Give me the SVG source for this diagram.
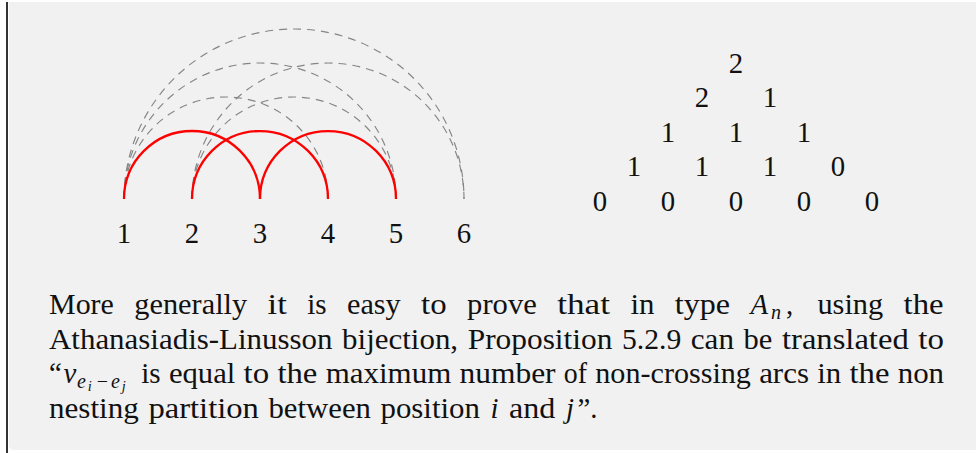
<svg xmlns="http://www.w3.org/2000/svg" width="976" height="453" viewBox="0 0 976 453">
<style>
.t{font-size:28.8px;fill:#111}
.m{text-anchor:middle}
.it{font-style:italic}
.s1{font-size:20px}
.s2{font-size:14.4px}
.red{fill:none;stroke:#ff0000;stroke-width:2.3}
.dash{fill:none;stroke:#858585;stroke-width:1.15;stroke-dasharray:8 6}
</style>
<rect x="0" y="0" width="976" height="453" fill="#ffffff"/>
<path d="M9 2 H976 V450 H14 Q9 450 9 445 Z" fill="#f1f1f1"/>
<line x1="7" y1="2" x2="7" y2="453" stroke="#333333" stroke-width="2"/>

<g id="connectors">
<path class="dash" d="M124 199 A170 170 0 0 1 464 199"/>
<path class="dash" d="M124 199 A136 136 0 0 1 396 199"/>
<path class="dash" d="M124 199 A102 102 0 0 1 328 199"/>
<path class="dash" d="M192 199 A136 136 0 0 1 464 199"/>
<path class="dash" d="M192 199 A102 102 0 0 1 396 199"/>
<path class="red" d="M124 199 A68 68 0 0 1 260 199"/>
<path class="red" d="M192 199 A68 68 0 0 1 328 199"/>
<path class="red" d="M260 199 A68 68 0 0 1 396 199"/>
</g>

<g font-family="Liberation Serif, serif">
<g id="p1"><text class="t m" x="124" y="243">1</text></g>
<g id="p2"><text class="t m" x="192" y="243">2</text></g>
<g id="p3"><text class="t m" x="260" y="243">3</text></g>
<g id="p4"><text class="t m" x="328" y="243">4</text></g>
<g id="p5"><text class="t m" x="396" y="243">5</text></g>
<g id="p6"><text class="t m" x="464" y="243">6</text></g>

<g id="triangle">
<text class="t m" x="736" y="72.5">2</text>
<text class="t m" x="702" y="107">2</text>
<text class="t m" x="770" y="107">1</text>
<text class="t m" x="668" y="141.5">1</text>
<text class="t m" x="736" y="141.5">1</text>
<text class="t m" x="804" y="141.5">1</text>
<text class="t m" x="634" y="176">1</text>
<text class="t m" x="702" y="176">1</text>
<text class="t m" x="770" y="176">1</text>
<text class="t m" x="838" y="176">0</text>
<text class="t m" x="600" y="210.5">0</text>
<text class="t m" x="668" y="210.5">0</text>
<text class="t m" x="736" y="210.5">0</text>
<text class="t m" x="804" y="210.5">0</text>
<text class="t m" x="872" y="210.5">0</text>
</g>

<g id="paragraph">
<text class="t" x="49" y="314" textLength="64.9" lengthAdjust="spacingAndGlyphs">More</text>
<text class="t" x="134.3" y="314" textLength="112.9" lengthAdjust="spacingAndGlyphs">generally</text>
<text class="t" x="267.6" y="314" textLength="19.2" lengthAdjust="spacingAndGlyphs">it</text>
<text class="t" x="307.2" y="314" textLength="19.4" lengthAdjust="spacingAndGlyphs">is</text>
<text class="t" x="347" y="314" textLength="53.7" lengthAdjust="spacingAndGlyphs">easy</text>
<text class="t" x="421.1" y="314" textLength="25.6" lengthAdjust="spacingAndGlyphs">to</text>
<text class="t" x="467.1" y="314" textLength="69.7" lengthAdjust="spacingAndGlyphs">prove</text>
<text class="t" x="557.2" y="314" textLength="52.8" lengthAdjust="spacingAndGlyphs">that</text>
<text class="t" x="630.4" y="314" textLength="24" lengthAdjust="spacingAndGlyphs">in</text>
<text class="t" x="674.8" y="314" textLength="55.2" lengthAdjust="spacingAndGlyphs">type</text>
<text class="t it" x="750.4" y="314">A</text>
<text class="t it s1" x="771" y="318.5">n</text>
<text class="t" x="786" y="314">,</text>
<text class="t" x="817.4" y="314" textLength="65.8" lengthAdjust="spacingAndGlyphs">using</text>
<text class="t" x="903.6" y="314" textLength="40" lengthAdjust="spacingAndGlyphs">the</text>

<text class="t" x="49" y="348.5" textLength="283.5" lengthAdjust="spacingAndGlyphs">Athanasiadis-Linusson</text>
<text class="t" x="342.1" y="348.5" textLength="116" lengthAdjust="spacingAndGlyphs">bijection,</text>
<text class="t" x="467.7" y="348.5" textLength="144.7" lengthAdjust="spacingAndGlyphs">Proposition</text>
<text class="t" x="622" y="348.5" textLength="59.2" lengthAdjust="spacingAndGlyphs">5.2.9</text>
<text class="t" x="690.8" y="348.5" textLength="43.2" lengthAdjust="spacingAndGlyphs">can</text>
<text class="t" x="743.6" y="348.5" textLength="28.8" lengthAdjust="spacingAndGlyphs">be</text>
<text class="t" x="782" y="348.5" textLength="126.7" lengthAdjust="spacingAndGlyphs">translated</text>
<text class="t" x="918.3" y="348.5" textLength="25.6" lengthAdjust="spacingAndGlyphs">to</text>

<text class="t" x="49" y="383">“</text>
<text class="t it" x="63.4" y="383">v</text>
<text class="t it s1" x="77" y="387.5">e</text>
<text class="t it s2" x="87.8" y="390.5">i</text>
<text class="t s1 m" x="102.5" y="387.5">−</text>
<text class="t it s1" x="111" y="387.5">e</text>
<text class="t it s2" x="121.8" y="390.5">j</text>
<text class="t" x="141.25" y="383" textLength="19.4" lengthAdjust="spacingAndGlyphs">is</text>
<text class="t" x="168.9" y="383" textLength="66.4" lengthAdjust="spacingAndGlyphs">equal</text>
<text class="t" x="243.55" y="383" textLength="25.6" lengthAdjust="spacingAndGlyphs">to</text>
<text class="t" x="277.4" y="383" textLength="40" lengthAdjust="spacingAndGlyphs">the</text>
<text class="t" x="325.65" y="383" textLength="125.6" lengthAdjust="spacingAndGlyphs">maximum</text>
<text class="t" x="459.5" y="383" textLength="96.1" lengthAdjust="spacingAndGlyphs">number</text>
<text class="t" x="563.85" y="383" textLength="23.2" lengthAdjust="spacingAndGlyphs">of</text>
<text class="t" x="595.3" y="383" textLength="155.6" lengthAdjust="spacingAndGlyphs">non-crossing</text>
<text class="t" x="759.15" y="383" textLength="49.8" lengthAdjust="spacingAndGlyphs">arcs</text>
<text class="t" x="817.2" y="383" textLength="24" lengthAdjust="spacingAndGlyphs">in</text>
<text class="t" x="849.45" y="383" textLength="40" lengthAdjust="spacingAndGlyphs">the</text>
<text class="t" x="897.7" y="383" textLength="46.4" lengthAdjust="spacingAndGlyphs">non</text>

<text class="t" x="49" y="417.5" textLength="89.8" lengthAdjust="spacingAndGlyphs">nesting</text>
<text class="t" x="148.4" y="417.5" textLength="110.5" lengthAdjust="spacingAndGlyphs">partition</text>
<text class="t" x="268.5" y="417.5" textLength="102.4" lengthAdjust="spacingAndGlyphs">between</text>
<text class="t" x="380.5" y="417.5" textLength="99.4" lengthAdjust="spacingAndGlyphs">position</text>
<text class="t it" x="490.5" y="417.5">i</text>
<text class="t" x="509" y="417.5" textLength="46.4" lengthAdjust="spacingAndGlyphs">and</text>
<text class="t it" x="566" y="417.5">j</text>
<text class="t" x="577.5" y="417.5">”.</text>
</g>
</g>
</svg>
